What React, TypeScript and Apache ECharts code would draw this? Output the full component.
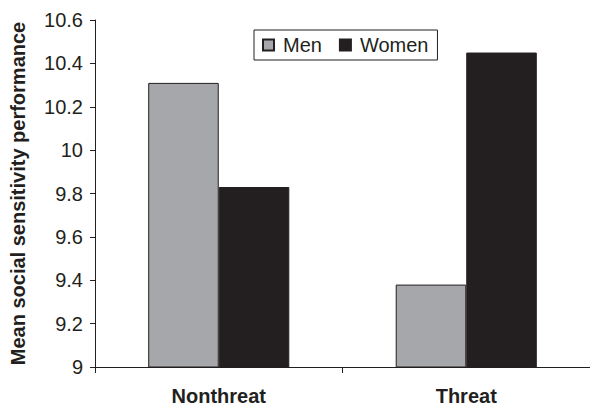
import React, { useEffect, useRef } from "react";
import * as echarts from "echarts";

const categories = ["Nonthreat", "Threat"];
const menValues = [10.31, 9.38];
const womenValues = [9.83, 10.45];
const yTicks = { min: 9, max: 10.6, interval: 0.2 };
const yTitle = "Mean social sensitivity performance";

export default function App() {
  const ref = useRef<HTMLDivElement>(null);
  useEffect(() => {
    if (!ref.current) return;
    const chart = echarts.init(ref.current, undefined, { renderer: "svg" });
    const font = "'Liberation Sans', Arial, sans-serif";
    const dark = "#231f20";
    chart.setOption({
      animation: false,
      textStyle: { fontFamily: font },
      grid: { left: 92, top: 20, bottom: 40, right: -8, containLabel: false },
      legend: {
        left: 254,
        top: 30,
        orient: "horizontal",
        itemWidth: 11,
        itemHeight: 11,
        itemGap: 17,
        padding: [5, 9, 5, 8],
        borderColor: dark,
        borderWidth: 1,
        textStyle: { fontSize: 20, color: dark, fontFamily: font, padding: [0, 0, 0, 4] },
        data: [
          { name: "Men", icon: "rect" },
          { name: "Women", icon: "rect" },
        ],
      },
      xAxis: {
        type: "category",
        data: categories,
        axisLine: { lineStyle: { color: dark, width: 1 } },
        axisTick: { show: true, length: 6, alignWithLabel: false, lineStyle: { color: dark } },
        axisLabel: {
          fontSize: 20,
          fontWeight: "bold",
          color: dark,
          margin: 19,
          fontFamily: font,
        },
      },
      yAxis: {
        type: "value",
        min: yTicks.min,
        max: yTicks.max,
        interval: yTicks.interval,
        name: yTitle,
        nameLocation: "middle",
        nameGap: 67,
        nameTextStyle: { fontSize: 20, fontWeight: "bold", color: dark, fontFamily: font },
        axisLine: { show: true, lineStyle: { color: dark, width: 1 } },
        axisTick: { show: true, length: 5, lineStyle: { color: dark } },
        splitLine: { show: false },
        axisLabel: {
          fontSize: 20,
          color: dark,
          margin: 12,
          fontFamily: font,
          formatter: (v: number) => String(Math.round(v * 10) / 10),
        },
      },
      series: [
        {
          name: "Men",
          type: "bar",
          data: menValues,
          barGap: "0%",
          barCategoryGap: "43%",
          itemStyle: { color: "#a6a7ab", borderColor: dark, borderWidth: 1 },
        },
        {
          name: "Women",
          type: "bar",
          data: womenValues,
          barGap: "0%",
          barCategoryGap: "43%",
          itemStyle: { color: dark, borderColor: dark, borderWidth: 1 },
        },
      ],
    });
    return () => chart.dispose();
  }, []);
  return (
    <div
      ref={ref}
      style={{ position: "absolute", left: 0, top: 0, width: 590, height: 407 }}
    />
  );
}
